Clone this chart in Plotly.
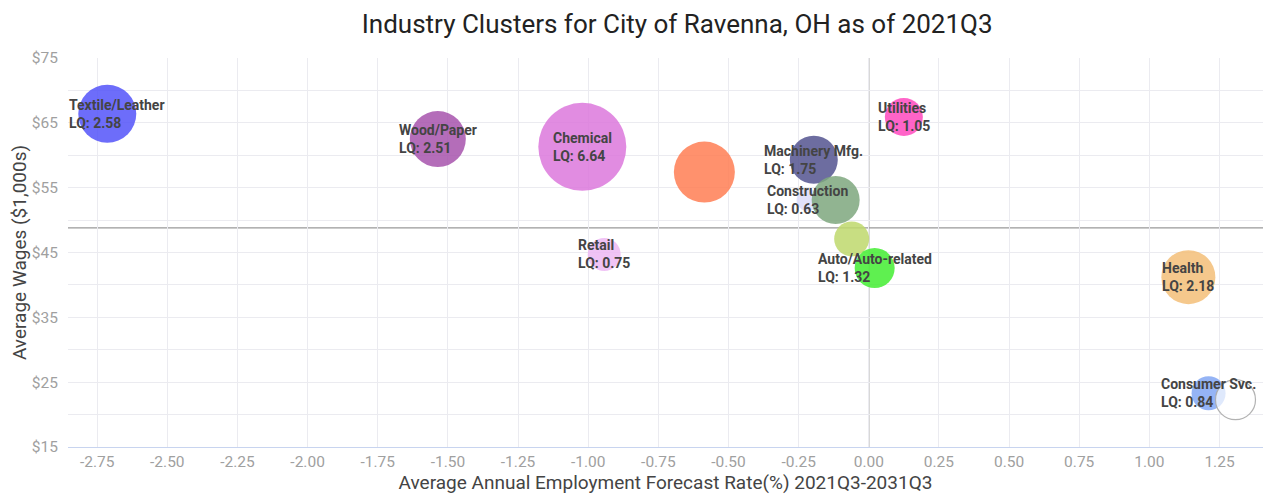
import plotly.graph_objects as go

# ---- data ----
industries = ["Textile/Leather", "Wood/Paper", "Chemical", "Other (orange)", "Machinery Mfg.",
              "Construction", "Other (green)", "Other (yellow-green)", "Auto/Auto-related",
              "Utilities", "Retail", "Health", "Consumer Svc.", "Other (white)"]
growth = [-2.714, -1.536, -1.021, -0.586, -0.196, -0.218, -0.118, -0.061, 0.021,
          0.125, -0.943, 1.139, 1.211, 1.307]
wages = [66.4, 62.5, 61.3, 57.4, 59.3, 53.1, 53.1, 47.1, 42.6, 65.9, 44.7, 41.2, 23.3, 22.3]
lq = [2.58, 2.51, 6.64, None, 1.75, 0.63, None, None, 1.32, 1.05, 0.75, 2.18, 0.84, None]
bubble_size = [58, 56, 88, 61, 48, 22, 48, 35, 40, 38, 33, 54, 34, 40]
colors = ["rgba(84,84,249,0.85)", "rgba(167,84,173,0.85)", "rgba(220,120,220,0.85)",
          "rgba(255,126,84,0.85)", "rgba(84,84,143,0.85)", "rgba(220,220,249,0.85)",
          "rgba(126,167,126,0.85)", "rgba(190,216,108,0.85)", "rgba(67,237,49,0.85)",
          "rgba(255,73,190,0.85)", "rgba(237,184,243,0.85)", "rgba(243,190,120,0.85)",
          "rgba(131,167,243,0.85)", "rgba(255,255,255,0.7)"]
line_colors = ["rgba(0,0,0,0)"] * 13 + ["rgba(170,170,170,0.9)"]
avg_growth = 0.0
avg_wage = 48.8
x_ticks = [-2.75, -2.5, -2.25, -2.0, -1.75, -1.5, -1.25, -1.0, -0.75, -0.5, -0.25,
           0.0, 0.25, 0.5, 0.75, 1.0, 1.25]
y_ticks = [15, 25, 35, 45, 55, 65, 75]

FONT = "Roboto, 'Open Sans', sans-serif"

fig = go.Figure()
fig.add_trace(go.Scatter(
    x=growth, y=wages, mode="markers",
    marker=dict(size=bubble_size, sizemode="diameter", color=colors, opacity=1,
                line=dict(color=line_colors, width=1.2)),
    hovertext=industries, hoverinfo="text", showlegend=False,
))

annotations = []
for name, gx, wy, q in zip(industries, growth, wages, lq):
    if q is None:
        continue
    shift = 10 if gx < -2.6 else 0
    annotations.append(dict(
        x=gx, y=wy, xref="x", yref="y", text=f"<b>{name}<br>LQ: {q:.2f}</b>",
        showarrow=False, xanchor="center", yanchor="middle", align="left",
        xshift=shift, font=dict(family=FONT, size=14, color="#444"),
    ))

fig.update_layout(
    width=1265, height=487,
    paper_bgcolor="white", plot_bgcolor="white",
    margin=dict(l=60, r=10, t=50, b=48, autoexpand=False),
    title=dict(text="Industry Clusters for City of Ravenna, OH as of 2021Q3",
               x=0.529, xanchor="center", xref="container",
               y=0.967, yanchor="middle", yref="container",
               font=dict(family=FONT, size=26, color="#222")),
    font=dict(family=FONT),
    annotations=annotations,
    shapes=[
        dict(type="line", xref="x", yref="paper", x0=avg_growth, x1=avg_growth, y0=0, y1=1,
             line=dict(color="#999", width=1.2), layer="below"),
        dict(type="line", xref="paper", yref="y", x0=0, x1=1, y0=avg_wage, y1=avg_wage,
             line=dict(color="#999", width=1.2), layer="below"),
    ],
)
fig.update_xaxes(
    range=[-2.854, 1.405], tickvals=x_ticks, ticktext=[f"{v:.2f}" for v in x_ticks],
    showgrid=True, gridcolor="#ebebf0", gridwidth=1, zeroline=False, automargin=False,
    showline=True, linecolor="#c8d4ef", linewidth=1,
    ticks="",
    tickfont=dict(family=FONT, size=15.5, color="#a0a0a0"),
    title=dict(text="Average Annual Employment Forecast Rate(%) 2021Q3-2031Q3",
               font=dict(family=FONT, size=19, color="#444"), standoff=5),
)
fig.update_yaxes(
    range=[15, 75], tickvals=y_ticks, ticktext=[f"${v}" for v in y_ticks],
    showgrid=True, gridcolor="#ebebf0", gridwidth=1, zeroline=False, automargin=False,
    ticks="outside", ticklen=6, tickcolor="rgba(0,0,0,0)",
    minor=dict(dtick=5, showgrid=True, gridcolor="#ebebf0"),
    tickfont=dict(family=FONT, size=15.5, color="#a0a0a0"),
    title=dict(text="Average Wages ($1,000s)",
               font=dict(family=FONT, size=19, color="#444"), standoff=5),
)

fig.write_html("out.html")
